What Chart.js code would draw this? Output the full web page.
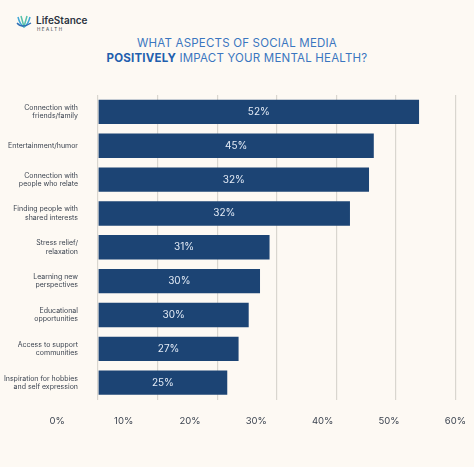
<!DOCTYPE html>
<html>
<head>
<meta charset="utf-8">
<script src="https://cdn.jsdelivr.net/npm/chart.js@4"></script>
<style>
  html, body { margin: 0; padding: 0; background: #fdf9f3; }
  #wrap { position: relative; width: 474px; height: 467px; }
  #logo { position: absolute; left: 16px; top: 14px; font-family: Inter, sans-serif; color: #2b3440; }
  #logo .name { font-size: 10px; font-weight: 600; position: absolute; left: 20px; top: 0; }
  #logo .sub { font-size: 4.5px; letter-spacing: 1.5px; position: absolute; left: 21px; top: 13px; }
  #logo .icon { position: absolute; left: 0; top: 0; width: 16px; height: 16px; }
  #title { position: absolute; left: 0; width: 474px; top: 36px; text-align: center;
    font-family: Inter, sans-serif; font-size: 11.5px; line-height: 15px; color: #3a76c0; letter-spacing: 0.2px; }
  #title b { color: #1f5fae; }
  canvas { position: absolute; left: 0; top: 0; }
</style>
</head>
<body>
<div id="wrap">
  <div id="logo">
    <svg class="icon" viewBox="0 0 16 16"><path d="M2 3 Q4 11 8 13 Q12 11 14 3" fill="none" stroke="#3fa7d6" stroke-width="1.5"/><path d="M5 2 Q7 9 8 13 Q9 9 11 2" fill="none" stroke="#56c1a8" stroke-width="1.5"/><path d="M1 9 Q6 15 15 9" fill="none" stroke="#2e6db4" stroke-width="1.3"/></svg>
    <span class="name">LifeStance</span><span class="sub">HEALTH</span>
  </div>
  <div id="title">WHAT ASPECTS OF SOCIAL MEDIA<br><b>POSITIVELY</b> IMPACT YOUR MENTAL HEALTH?</div>
  <canvas id="chart" width="474" height="467"></canvas>
</div>
<script>
const categories = [
  ['Connection with', 'friends/family'],
  'Entertainment/humor',
  ['Connection with', 'people who relate'],
  ['Finding people with', 'shared interests'],
  ['Stress relief/', 'relaxation'],
  ['Learning new', 'perspectives'],
  ['Educational', 'opportunities'],
  ['Access to support', 'communities'],
  ['Inspiration for hobbies', 'and self expression']
];
// bar lengths as drawn against the gridlines
const barValues = [53.9, 46.3, 45.5, 42.3, 28.8, 27.2, 25.3, 23.6, 21.7];
// percentages printed on the bars
const barLabels = ['52%', '45%', '32%', '32%', '31%', '30%', '30%', '27%', '25%'];
const tickValues = [0, 10, 20, 30, 40, 50, 60];
const tickLabels = ['0%', '10%', '20%', '30%', '40%', '50%', '60%'];

const font = { family: "Inter, sans-serif", size: 7 };

const barLabelPlugin = {
  id: 'barLabels',
  afterDatasetsDraw(chart) {
    const { ctx } = chart;
    const meta = chart.getDatasetMeta(0);
    ctx.save();
    ctx.fillStyle = '#e3ebf6';
    ctx.font = "10px Inter, sans-serif";
    ctx.textAlign = 'center';
    ctx.textBaseline = 'middle';
    meta.data.forEach((bar, i) => {
      ctx.fillText(barLabels[i], (bar.base + bar.x) / 2, bar.y);
    });
    ctx.restore();
  }
};

new Chart(document.getElementById('chart'), {
  type: 'bar',
  data: {
    labels: categories,
    datasets: [{
      data: barValues,
      backgroundColor: '#1c4474',
      categoryPercentage: 0.72,
      barPercentage: 1
    }]
  },
  options: {
    indexAxis: 'y',
    responsive: false,
    animation: false,
    layout: { padding: { top: 95, right: 16, bottom: 32, left: 0 } },
    plugins: { legend: { display: false }, tooltip: { enabled: false } },
    scales: {
      x: {
        min: 0, max: 60,
        afterBuildTicks: s => { s.ticks = tickValues.map(v => ({ value: v })); },
        ticks: { display: false },
        grid: { color: '#d9d6cf', lineWidth: 1.2, drawTicks: false },
        border: { display: false }
      },
      x2: {
        type: 'linear', position: 'bottom', axis: 'x',
        min: 6.14, max: 60,
        afterBuildTicks: s => { s.ticks = tickValues.map(v => ({ value: v })); },
        ticks: { color: '#3c4450', font: { family: "Inter, sans-serif", size: 9.5 }, padding: 8,
          autoSkip: false, maxRotation: 0, callback: (v, i) => tickLabels[i] },
        grid: { display: false },
        border: { display: false }
      },
      y: {
        afterFit: s => { s.width = 98; },
        ticks: { color: '#3c4450', font, padding: 12 },
        grid: { display: false },
        border: { display: false }
      }
    }
  },
  plugins: [barLabelPlugin]
});
</script>
</body>
</html>
